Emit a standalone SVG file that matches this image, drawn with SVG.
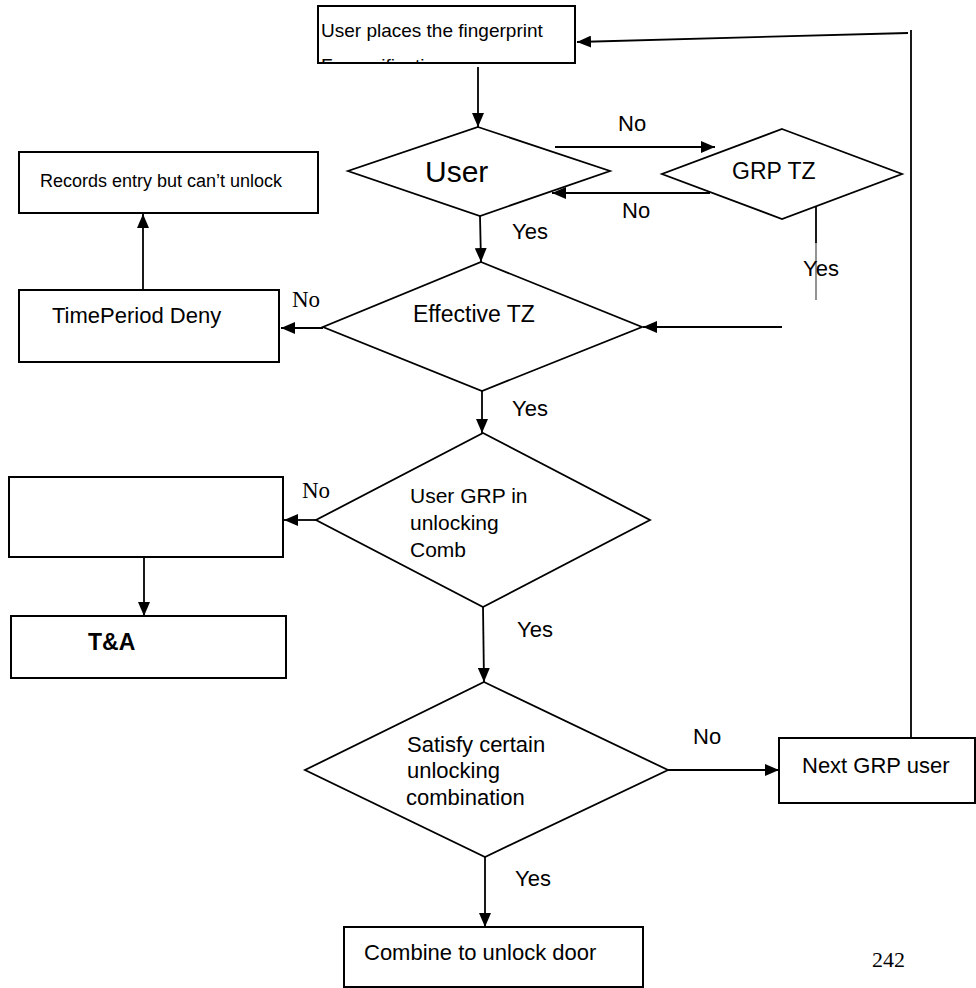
<svg xmlns="http://www.w3.org/2000/svg" width="976" height="988" viewBox="0 0 976 988">
<style>
.box{fill:#fff;stroke:#000;stroke-width:2}
.dia{fill:#fff;stroke:#000;stroke-width:1.8}
.ln{fill:none;stroke:#000;stroke-width:1.8}
.ar{fill:none;stroke:#000;stroke-width:1.8;marker-end:url(#ah)}
.t{font-family:"Liberation Sans",Arial,sans-serif;font-size:22px;fill:#000}
.s{font-family:"Liberation Serif","Times New Roman",serif;font-size:23px;fill:#000}
</style>
<defs>
<marker id="ah" viewBox="0 0 14 12" refX="14" refY="6" markerWidth="14" markerHeight="12" markerUnits="userSpaceOnUse" orient="auto">
<path d="M0,0 L14,6 L0,12 Z" fill="#000"/>
</marker>
<clipPath id="clipTop"><rect x="318" y="6" width="257" height="56"/></clipPath>
</defs>
<rect width="976" height="988" fill="#fff"/>

<g id="connectors">
<line class="ar" x1="478" y1="67" x2="478" y2="127"/>
<line class="ar" x1="555" y1="147" x2="715" y2="147"/>
<line class="ar" x1="710" y1="193" x2="552" y2="193"/>
<line class="ar" x1="480" y1="216" x2="481" y2="262"/>
<line class="ln" x1="816" y1="207" x2="816" y2="243"/>
<line x1="816" y1="243" x2="816" y2="300" stroke="#888" stroke-width="1.8"/>
<line class="ar" x1="782" y1="327" x2="643" y2="327"/>
<line class="ar" x1="323" y1="328" x2="281" y2="328"/>
<line class="ar" x1="143" y1="290" x2="143" y2="214"/>
<line class="ar" x1="482" y1="391" x2="482" y2="433"/>
<line class="ar" x1="316" y1="520" x2="284" y2="520"/>
<line class="ar" x1="144" y1="557" x2="144" y2="616"/>
<line class="ar" x1="483" y1="607" x2="484" y2="682"/>
<line class="ar" x1="668" y1="770" x2="779" y2="770"/>
<line class="ln" x1="911" y1="737" x2="911" y2="30"/>
<line class="ar" x1="908" y1="33" x2="577" y2="42"/>
<line class="ar" x1="485" y1="857" x2="485" y2="927"/>
</g>

<g id="n-start">
<rect class="box" x="318" y="6" width="257" height="57"/>
<g clip-path="url(#clipTop)">
<text class="t" x="321" y="37" style="font-size:19px">User places the fingerprint</text>
<text class="t" x="321" y="72" style="font-size:19px">For verification</text>
</g>
</g>

<g id="n-user">
<polygon class="dia" points="478,127 610,171 480,216 348,171"/>
<text class="t" x="425" y="182" style="font-size:30px">User</text>
</g>

<g id="n-grptz">
<polygon class="dia" points="782,129 902,174 782,219 662,174"/>
<text class="t" x="732" y="179" style="font-size:23px">GRP TZ</text>
</g>

<g id="n-records">
<rect class="box" x="19" y="152" width="299" height="61"/>
<text class="t" x="40" y="187" style="font-size:18px">Records entry but can’t unlock</text>
</g>

<g id="n-timeperiod">
<rect class="box" x="19" y="290" width="260" height="72"/>
<text class="t" x="52" y="323">TimePeriod Deny</text>
</g>

<g id="n-effective">
<polygon class="dia" points="481,262 642,327 482,391 323,327"/>
<text class="t" x="413" y="322" style="font-size:23px">Effective TZ</text>
</g>

<g id="n-usergrp">
<polygon class="dia" points="483,433 650,520 483,607 316,520"/>
<text class="t" x="410" y="503" style="font-size:21px">User GRP in</text>
<text class="t" x="410" y="530" style="font-size:21px">unlocking</text>
<text class="t" x="410" y="557" style="font-size:21px">Comb</text>
</g>

<g id="n-blank">
<rect class="box" x="9" y="477" width="274" height="80"/>
</g>

<g id="n-ta">
<rect class="box" x="11" y="616" width="275" height="62"/>
<text class="t" x="88" y="650" style="font-size:23px;font-weight:bold">T&amp;A</text>
</g>

<g id="n-satisfy">
<polygon class="dia" points="484,682 668,770 485,857 305,770"/>
<text class="t" x="407" y="752">Satisfy certain</text>
<text class="t" x="407" y="778">unlocking</text>
<text class="t" x="406" y="805">combination</text>
</g>

<g id="n-next">
<rect class="box" x="779" y="738" width="196" height="65"/>
<text class="t" x="802" y="773">Next GRP user</text>
</g>

<g id="n-combine">
<rect class="box" x="344" y="927" width="299" height="60"/>
<text class="t" x="364" y="960">Combine to unlock door</text>
</g>

<g id="labels">
<text class="t" x="618" y="131">No</text>
<text class="t" x="622" y="218">No</text>
<text class="t" x="512" y="239">Yes</text>
<text class="t" x="803" y="276">Yes</text>
<text class="s" x="292" y="307">No</text>
<text class="t" x="512" y="416">Yes</text>
<text class="s" x="302" y="498">No</text>
<text class="t" x="517" y="637">Yes</text>
<text class="t" x="693" y="744">No</text>
<text class="t" x="515" y="886">Yes</text>
<text class="s" x="872" y="967" style="font-size:22px">242</text>
</g>
</svg>
